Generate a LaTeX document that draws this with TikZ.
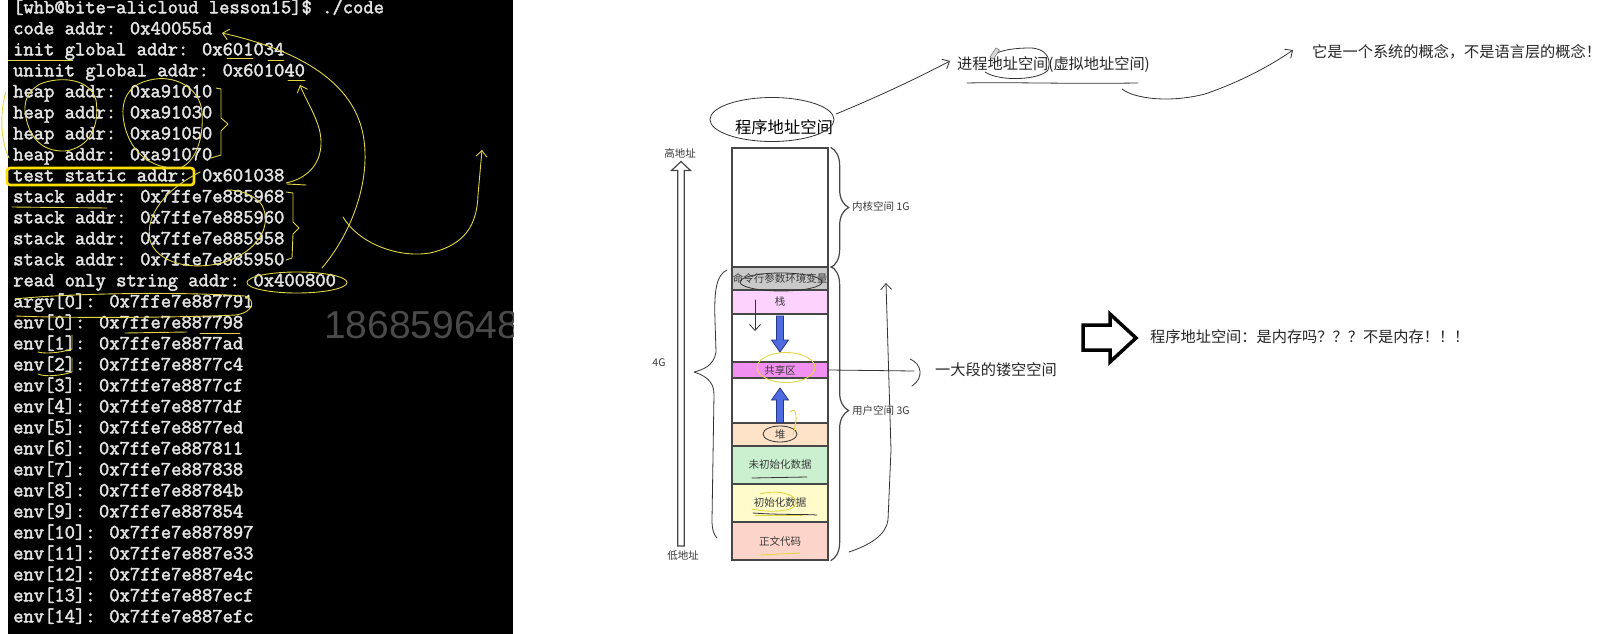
\documentclass[tikz,border=0pt]{standalone}
\usepackage{fontspec}
\newfontfamily\cjk{Noto Sans CJK SC}
\newfontfamily\termfont{Latin Modern Mono}[AutoFakeBold=2.2]
\newfontfamily\wmfont{Liberation Sans}
\usetikzlibrary{arrows.meta,decorations.pathreplacing,calc,shapes.geometric}
\definecolor{termtext}{HTML}{E4E4E4}
\definecolor{penyel}{HTML}{E2D548}
\definecolor{boxyel}{HTML}{FFE000}
\definecolor{wmgray}{HTML}{4A4A4A}
\definecolor{rowedge}{HTML}{474747}
\definecolor{labgray}{HTML}{3A3A3A}
\definecolor{cmdgray}{HTML}{C9C9C9}
\definecolor{stackpink}{HTML}{FDD3FD}
\definecolor{shmag}{HTML}{F290F2}
\definecolor{heappeach}{HTML}{FDE2C8}
\definecolor{bssgreen}{HTML}{CBF0D0}
\definecolor{datayel}{HTML}{FFFBCB}
\definecolor{textsalmon}{HTML}{FCD4CA}
\definecolor{arrblue}{HTML}{4F6BE0}
\definecolor{arredge}{HTML}{26368A}
\begin{document}
\begin{tikzpicture}[x=1pt,y=-1pt,
  term/.style={font=\termfont\bfseries\fontsize{20}{21}\selectfont, text=termtext, anchor=base west, inner sep=0},
  cjklab/.style={font=\cjk\fontsize{15.2}{18}\selectfont, text=black!85, inner sep=0},
  smalllab/.style={font=\cjk\fontsize{10.5}{12}\selectfont, text=labgray, inner sep=0},
  rowbox/.style={draw=rowedge, line width=1.3, minimum width=96, inner sep=0, text=labgray, font=\cjk\fontsize{10.5}{12}\selectfont},
  hand/.style={draw=black!80, line width=0.8, line cap=round, line join=round},
  yel/.style={draw=penyel, line width=0.9, line cap=round, line join=round},
  barb/.style={-{Straight Barb[length=6pt,width=11pt]}},
  bluearrow/.style={fill=arrblue, draw=arredge, line width=0.8}
]
\useasboundingbox (0,0) rectangle (1623,634);
\fill[white] (0,0) rectangle (1623,634);

% ---------------- terminal ----------------
\fill[black] (8,0) rectangle (513,634);
\begin{scope}
\clip (8,0) rectangle (513,634);
\node[font=\wmfont\fontsize{39}{44}\selectfont, text=wmgray, anchor=west, inner sep=0] (wm) at (324,325) {186859648};
\end{scope}

\node[term] (t0)  at (13,13.3) {[whb@bite-alicloud lesson15]\$ ./code};
\node[term] (t1)  at (13,34.3) {code addr: 0x40055d};
\node[term] (t2)  at (13,55.3) {init global addr: 0x601034};
\node[term] (t3)  at (13,76.3) {uninit global addr: 0x601040};
\node[term] (t4)  at (13,97.3) {heap addr: 0xa91010};
\node[term] (t5)  at (13,118.3) {heap addr: 0xa91030};
\node[term] (t6)  at (13,139.3) {heap addr: 0xa91050};
\node[term] (t7)  at (13,160.3) {heap addr: 0xa91070};
\node[term] (t8)  at (13,181.3) {test static addr: 0x601038};
\node[term] (t9)  at (13,202.3) {stack addr: 0x7ffe7e885968};
\node[term] (t10) at (13,223.3) {stack addr: 0x7ffe7e885960};
\node[term] (t11) at (13,244.3) {stack addr: 0x7ffe7e885958};
\node[term] (t12) at (13,265.3) {stack addr: 0x7ffe7e885950};
\node[term] (t13) at (13,286.3) {read only string addr: 0x400800};
\node[term] (t14) at (13,307.3) {argv[0]: 0x7ffe7e887791};
\node[term] (t15) at (13,328.3) {env[0]: 0x7ffe7e887798};
\node[term] (t16) at (13,349.3) {env[1]: 0x7ffe7e8877ad};
\node[term] (t17) at (13,370.3) {env[2]: 0x7ffe7e8877c4};
\node[term] (t18) at (13,391.3) {env[3]: 0x7ffe7e8877cf};
\node[term] (t19) at (13,412.3) {env[4]: 0x7ffe7e8877df};
\node[term] (t20) at (13,433.3) {env[5]: 0x7ffe7e8877ed};
\node[term] (t21) at (13,454.3) {env[6]: 0x7ffe7e887811};
\node[term] (t22) at (13,475.3) {env[7]: 0x7ffe7e887838};
\node[term] (t23) at (13,496.3) {env[8]: 0x7ffe7e88784b};
\node[term] (t24) at (13,517.3) {env[9]: 0x7ffe7e887854};
\node[term] (t25) at (13,538.3) {env[10]: 0x7ffe7e887897};
\node[term] (t26) at (13,559.3) {env[11]: 0x7ffe7e887e33};
\node[term] (t27) at (13,580.3) {env[12]: 0x7ffe7e887e4c};
\node[term] (t28) at (13,601.3) {env[13]: 0x7ffe7e887ecf};
\node[term] (t29) at (13,622.3) {env[14]: 0x7ffe7e887efc};

% yellow pen annotations on the terminal
\draw[boxyel, line width=2.6, rounded corners=3] (7,168) rectangle (194,185);
\draw[yel] (297,282.5) ellipse [x radius=50, y radius=10.5];
\draw[yel] (15,299) .. controls (60,294) and (170,291) .. (245,296) .. controls (256,300) and (254,312) .. (236,315) .. controls (170,318) and (60,318) .. (16,316);
\draw[yel] (40,84) .. controls (60,76) and (90,78) .. (96,100) .. controls (100,125) and (90,148) .. (65,151) .. controls (40,152) and (28,135) .. (25,112) .. controls (24,98) and (30,90) .. (40,84);
\draw[yel] (150,80) .. controls (175,74) and (200,88) .. (202,112) .. controls (204,140) and (195,162) .. (180,168) .. controls (150,170) and (126,150) .. (123,115) .. controls (122,95) and (132,84) .. (150,80);
\draw[yel] (216,88) -- (221,89) -- (221,118) -- (228,124) -- (221,131) -- (221,155) -- (211,158);
\draw[yel] (200,172) .. controls (165,190) and (145,215) .. (150,240) .. controls (156,262) and (190,272) .. (225,262) .. controls (260,250) and (272,225) .. (262,205) .. controls (255,195) and (240,190) .. (228,190);
\draw[yel] (286,192) -- (293,193) -- (293,222) -- (299,228) -- (293,234) -- (292,258) -- (286,260);
\draw[yel, barb] (322,268) .. controls (350,235) and (370,185) .. (364,140) .. controls (358,95) and (320,55) .. (222,33);
\draw[yel, barb] (286,183) .. controls (322,175) and (325,145) .. (318,125) .. controls (312,108) and (305,98) .. (300,85);
\draw[yel, barb] (343,217) .. controls (360,245) and (400,258) .. (430,253) .. controls (465,245) and (477,225) .. (478,195) -- (482,150);
\draw[yel] (6,92) .. controls (0,110) and (0,140) .. (9,158);
\draw[yel] (8,60) -- (73,60);
\draw[yel] (227,58) -- (253,58);
\draw[yel] (268,60) -- (284,60);
\draw[yel] (288,80) -- (305,80);
\draw[yel] (287,184) -- (306,185);
\draw[yel] (12,207) -- (107,208);
\draw[yel] (125,333) -- (187,332);
\draw[yel] (200,333) -- (240,333);
\draw[yel] (38,352) .. controls (45,354) and (60,353) .. (72,349) -- (72,335);
\draw[yel] (38,374) .. controls (45,377) and (60,376) .. (72,372) -- (72,358);

% ---------------- address space column ----------------
\node[rowbox, minimum height=119] (kern) at (780,207.5) {};
\node[rowbox, fill=cmdgray, minimum height=23] (cmd) at (780,278.5) {命令行参数环境变量};
\node[rowbox, fill=stackpink, minimum height=24] (stack) at (780,302) {栈};
\node[rowbox, minimum height=48] (gap1) at (780,338) {};
\node[rowbox, fill=shmag, minimum height=16] (shared) at (780,370) {共享区};
\node[rowbox, minimum height=45] (gap2) at (780,400.5) {};
\node[rowbox, fill=heappeach, minimum height=23] (heap) at (780,434.5) {堆};
\node[rowbox, fill=bssgreen, minimum height=38] (bss) at (780,465) {未初始化数据};
\node[rowbox, fill=datayel, minimum height=38] (data) at (780,503) {初始化数据};
\node[rowbox, fill=textsalmon, minimum height=38] (code) at (780,541) {正文代码};

% blue growth arrows
\draw[bluearrow] (776.5,316) -- (776.5,340) -- (771.5,340) -- (780,352) -- (788.5,340) -- (783.5,340) -- (783.5,316) -- cycle;
\draw[bluearrow] (776.5,422.5) -- (776.5,400) -- (771.5,400) -- (780,388) -- (788.5,400) -- (783.5,400) -- (783.5,422.5) -- cycle;

% braces right
\draw[rowedge, line width=1.2, decorate, decoration={brace, amplitude=18pt, aspect=0.5}] ([xshift=2pt]kern.north east) -- ([xshift=2pt]kern.south east);
\draw[rowedge, line width=1.2, decorate, decoration={brace, amplitude=18pt, aspect=0.49}] ([xshift=2pt]cmd.north east) -- ([xshift=2pt]code.south east);
\node[smalllab, anchor=west] (kernlab) at (852,206) {内核空间 1G};
\node[smalllab, anchor=west] (userlab) at (852,411) {用户空间 3G};

% high/low address arrow
\draw[rowedge, line width=1.2, fill=white] (677.7,546) -- (677.7,170.5) -- (671.5,170.5) -- (681,161.5) -- (690.5,170.5) -- (684.3,170.5) -- (684.3,546) -- cycle;
\node[smalllab] (high) at (680,153) {高地址};
\node[smalllab] (low) at (683,556) {低地址};
\node[smalllab] (fourg) at (659,363) {4G};

% hand-drawn left brace
\draw[hand] (727,270) .. controls (716,275) and (714,292) .. (715,320) -- (716,352) .. controls (714,366) and (702,370) .. (694,372) .. controls (703,375) and (714,380) .. (714,394) -- (712,520) .. controls (712,530) and (714,535) .. (717,538);

% title
\node[font=\cjk\fontsize{16.3}{19}\selectfont, inner sep=0] (title) at (784,127) {程序地址空间};
\draw[hand] (772,119.5) ellipse [x radius=62, y radius=22];
\coordinate (ellR) at (836,114);

% hand annotations on column
\draw[hand] (781,282) ellipse [x radius=41, y radius=9];
\draw[hand] (780,434) ellipse [x radius=17, y radius=8];
\draw[hand] (752,478) -- (807,477);
\draw[hand] (753,513) .. controls (780,515) and (800,514) .. (817,515);
\draw[hand, barb] (755,300) -- (755,331);
\draw[hand, barb] (849,552) .. controls (870,545) and (886,535) .. (888,520) -- (891,450) -- (886,283);
\draw[yel] (786,367.5) ellipse [x radius=29, y radius=15];
\draw[yel] (790,412) .. controls (797,405) and (798,420) .. (793,434);
\draw[yel] (760,494) .. controls (780,489) and (797,495) .. (796,503) .. controls (795,512) and (770,513) .. (752,509);
\draw[yel] (755,515) -- (803,515);
\draw[yel] (760,555) -- (800,553);

% ---------------- right-hand notes ----------------
\node[cjklab, anchor=west] (vproc) at (957,65) {进程地址空间(虚拟地址空间)};
\node[cjklab, anchor=west] (sysnote) at (1312,52) {它是一个系统的概念，不是语言层的概念！};
\node[cjklab, anchor=west] (hollow) at (935,370) {一大段的镂空空间};
\node[cjklab, anchor=west] (notmem) at (1150,337) {程序地址空间：是内存吗？？？不是内存！！！};

\coordinate (vtip) at (950,61);
\draw[hand, barb] (ellR) .. controls (870,100) and (910,82) .. (vtip);
\draw[hand] (967,83) .. controls (1010,82) and (1060,84) .. (1138,83);
\draw[hand] (985,72) .. controls (1000,82) and (1040,80) .. (1048,70) .. controls (1052,58) and (1045,48) .. (1030,48) .. controls (1015,48) and (1003,50) .. (997,53);
\draw[gray, line width=0.6, fill=gray!30] (990,57) -- (996,48) -- (999.5,50) -- (993.5,59) -- cycle;
\coordinate (c1) at (1122,89);
\coordinate (stip) at (1293,50);
\draw[hand, barb] (c1) .. controls (1135,99) and (1170,103) .. (1205,94) .. controls (1240,82) and (1270,66) .. (stip);
\coordinate (shend) at (914,371);
\draw[hand] (shared.east) -- (shend);
\draw[hand] (910,359) .. controls (922,364) and (924,378) .. (912,386);

% hollow thick arrow
\draw[black, line width=3.5, line join=miter, fill=white] (1083,325) -- (1110,325) -- (1110,314) -- (1136,338) -- (1110,362) -- (1110,350) -- (1083,350) -- cycle;
\end{tikzpicture}
\end{document}
